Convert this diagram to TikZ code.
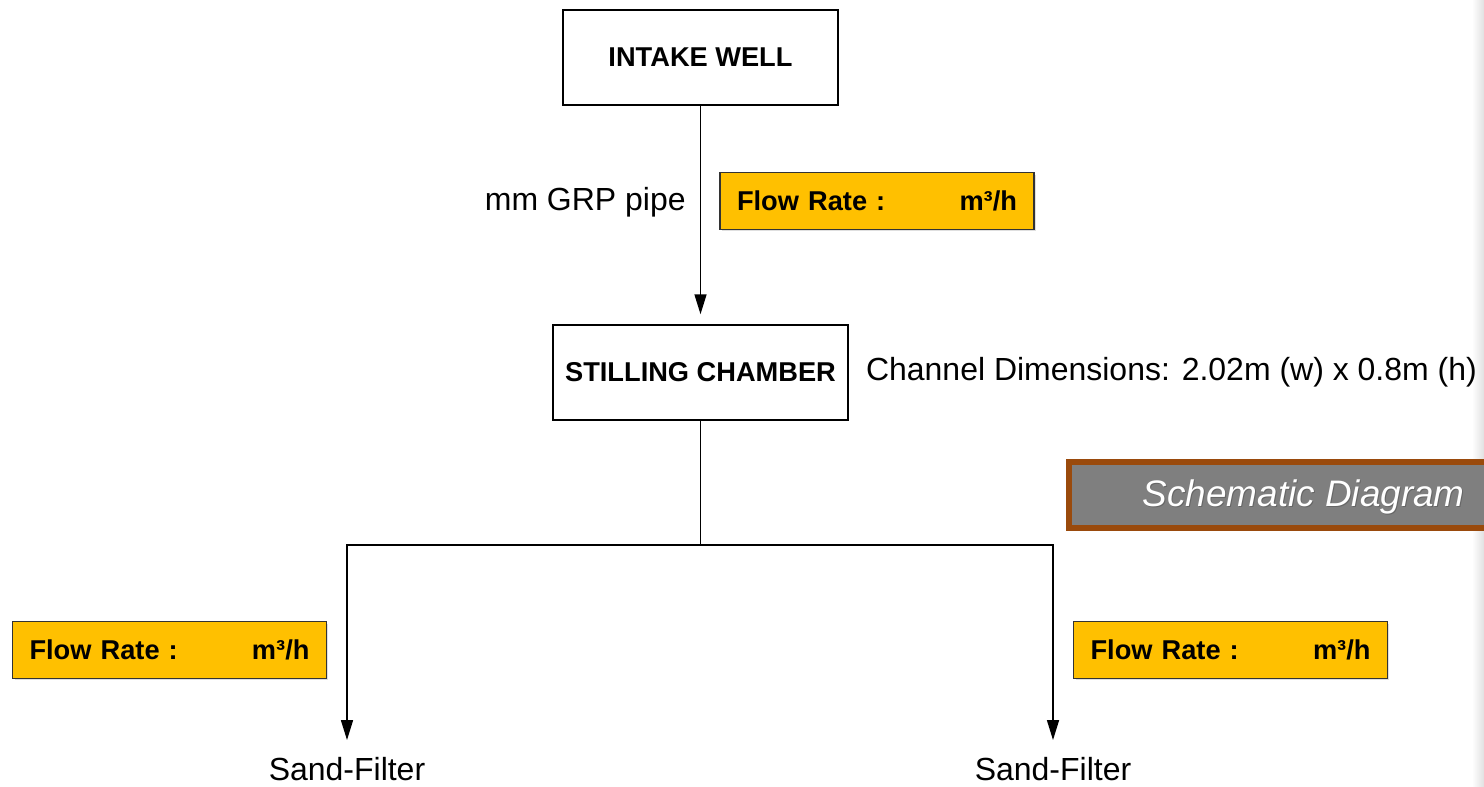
\documentclass[tikz,border=0pt]{standalone}
\usepackage{fontspec}
\setmainfont{Liberation Sans}
\usepackage{xcolor}
\usepackage{tikz}
\usetikzlibrary{positioning,arrows.meta,shadows}
\definecolor{flowyellow}{HTML}{FFC000}
\definecolor{titlegray}{HTML}{7F7F7F}
\definecolor{titlebrown}{HTML}{9A4A0C}
\tikzset{mybox/.style={draw,line width=0.85pt,font=\fontsize{15.5}{18}\selectfont\bfseries,align=center},
  flowbox/.style={draw=black!80,fill=flowyellow,line width=0.7pt,minimum height=1.14cm,text width=5.6cm,inner xsep=0.34cm,
    font=\fontsize{15.5}{18}\selectfont\bfseries,drop shadow={opacity=0.25,shadow xshift=0.04cm,shadow yshift=-0.04cm}},
  plain/.style={font=\fontsize{18.2}{22}\selectfont},
  flowarrow/.style={line width=0.85pt,-{Triangle[length=0.4cm,width=0.24cm]}} }

\begin{document}
\begin{tikzpicture}[x=0.02cm,y=-0.02cm]
    \useasboundingbox (0,0) rectangle (1484,787);
    \fill[left color=white,right color=black!12] (1472,0) rectangle (1484,787);
    \node[mybox,minimum width=5.5cm,minimum height=1.9cm] (iw) at (700.5,57.5) {INTAKE WELL};
    \node[mybox,minimum width=5.9cm,minimum height=1.9cm] (sc) at (700.5,372.5) {STILLING CHAMBER};
    \node[flowbox] (fr1) at (877,201) {Flow Rate :\hfill m³/h};
    \node[flowbox] (fr2) at (169.5,650) {Flow Rate :\hfill m³/h};
    \node[flowbox] (fr3) at (1230.5,650) {Flow Rate :\hfill m³/h};
    \node[plain,anchor=east,inner sep=0pt] (pipe) at (686,202) {mm GRP pipe};
    \node[plain,right=0.34cm of sc.east,inner sep=0pt] (dims) {Channel Dimensions: 2.02m (w) x 0.8m (h)};
    \node[plain] (sf1) at (347,769) {Sand-Filter};
    \node[plain] (sf2) at (1053,769) {Sand-Filter};
    \coordinate (split) at (700.5,545);
    % title banner, cut off at the right edge
    \node[draw=titlebrown,fill=titlegray,line width=3.4pt,minimum width=9.2cm,minimum height=1.32cm,anchor=west,
      drop shadow={opacity=0.35,shadow xshift=0.05cm,shadow yshift=-0.07cm}] (title) at (1066,495) {};
    \node[text=black!60,font=\fontsize{21}{24}\selectfont\itshape,anchor=east] at (1472,498) {Schematic Diagram};
    \node[text=white,font=\fontsize{21}{24}\selectfont\itshape,anchor=east] (ttext) at (1471,497) {Schematic Diagram};
    \draw[flowarrow,shorten >=0.2cm] (iw.south) -- (sc.north);
    \draw[line width=0.85pt] (sc.south) -- (split);
    \draw[flowarrow,shorten >=0.22cm] (split) -| (sf1.north);
    \draw[flowarrow,shorten >=0.22cm] (split) -| (sf2.north);
\end{tikzpicture}
\end{document}
